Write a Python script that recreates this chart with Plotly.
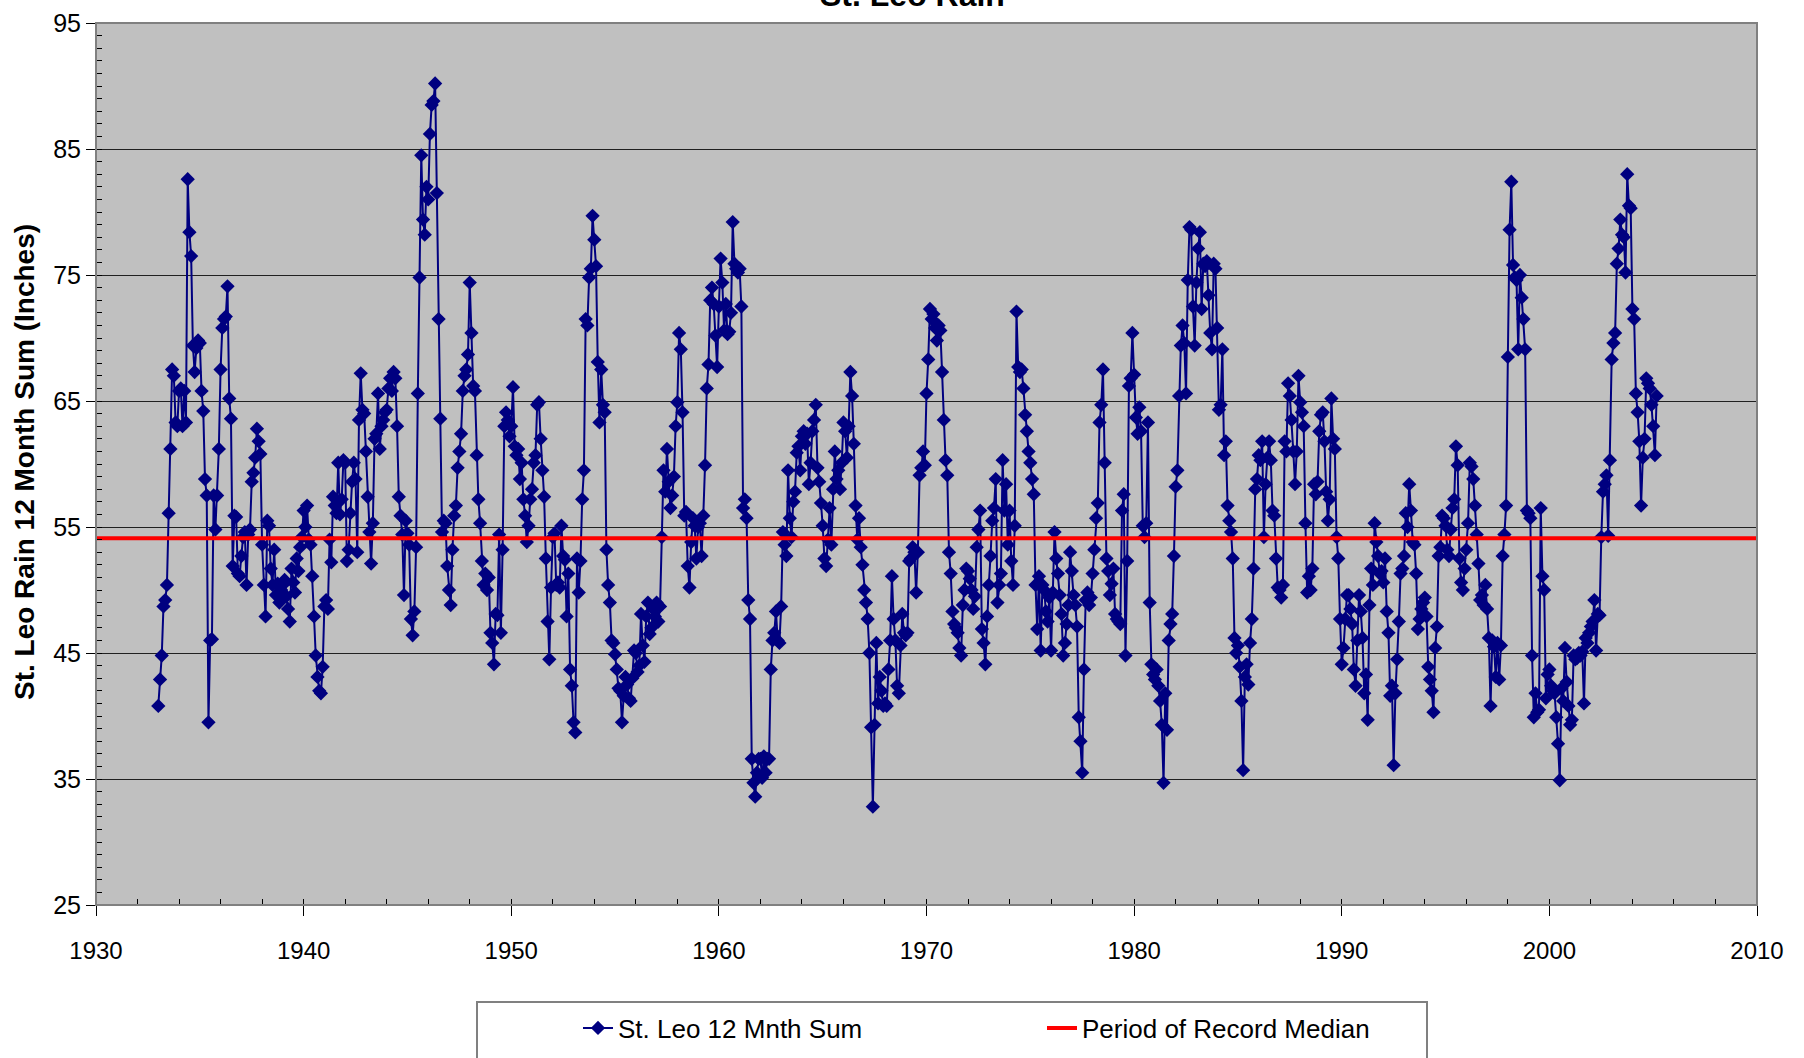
import plotly.graph_objects as go

# Monthly 12-month running rainfall totals at St. Leo (inches), starting January 1933
START_YEAR = 1933

rain_1930s = [
    40.8, 42.9, 44.8, 48.7, 49.2, 50.4, 56.1, 61.2, 67.5, 67.0, 63.3, 63.0,  # 1933
    65.8, 66.0, 63.0, 65.8, 63.3, 82.6, 78.4, 76.5, 69.4, 67.3, 69.2, 69.8,  # 1934
    69.6, 65.8, 64.2, 58.8, 57.5, 39.5, 46.0, 46.1, 57.5, 54.8, 57.5, 61.2,  # 1935
    67.5, 70.8, 71.5, 71.7, 74.1, 65.2, 63.6, 51.9, 55.9, 55.8, 51.3, 51.1,  # 1936
    52.7, 54.2, 54.6, 50.4, 54.4, 54.8, 58.6, 59.3, 60.5, 62.8, 61.8, 60.8,  # 1937
    53.6, 50.4, 47.9, 55.5, 55.1, 51.7, 50.4, 53.2, 49.6, 50.5, 49.0, 50.0,  # 1938
    50.4, 50.8, 49.5, 48.5, 47.5, 51.7, 50.6, 49.8, 52.5, 51.5, 53.4, 54.2,  # 1939
]

rain_1940s = [
    56.3, 55.0, 56.7, 54.0, 53.6, 51.1, 47.9, 44.8, 43.1, 42.0, 41.8, 43.9,  # 1940
    48.7, 49.2, 48.5, 54.0, 52.2, 57.4, 56.7, 56.1, 60.1, 56.0, 57.2, 60.3,  # 1941
    60.1, 52.3, 53.2, 56.1, 58.6, 60.1, 58.8, 53.0, 63.5, 67.2, 64.3, 64.0,  # 1942
    61.0, 57.4, 54.6, 52.1, 55.3, 62.0, 62.4, 65.6, 61.2, 63.0, 63.5, 64.1,  # 1943
    64.3, 66.0, 66.8, 65.8, 67.3, 66.8, 63.0, 57.4, 55.9, 54.4, 49.6, 55.5,  # 1944
    54.5, 53.6, 47.7, 46.4, 48.3, 53.4, 65.6, 74.8, 84.5, 79.4, 78.2, 82.0,  # 1945
    81.0, 86.2, 88.5, 88.8, 90.2, 81.5, 71.5, 63.6, 54.6, 55.5, 55.3, 51.9,  # 1946
    50.0, 48.8, 53.2, 55.9, 56.7, 59.7, 61.0, 62.4, 65.8, 67.0, 67.5, 68.7,  # 1947
    74.4, 70.4, 66.2, 65.8, 60.7, 57.2, 55.3, 52.3, 50.4, 51.3, 50.0, 51.0,  # 1948
    46.6, 45.8, 44.1, 48.1, 48.0, 54.4, 46.6, 53.2, 63.0, 64.1, 63.5, 62.2,  # 1949
]

rain_1950s = [
    63.0, 66.1, 61.4, 60.7, 61.2, 58.8, 60.1, 57.2, 55.9, 53.8, 55.1, 57.2,  # 1950
    58.0, 60.1, 60.7, 64.7, 64.9, 62.0, 59.5, 57.4, 52.5, 47.5, 44.5, 50.2,  # 1951
    54.2, 54.5, 50.4, 50.6, 50.2, 55.1, 52.7, 52.4, 47.9, 51.3, 43.7, 42.4,  # 1952
    39.5, 38.7, 52.5, 49.8, 52.3, 57.2, 59.5, 71.5, 71.0, 74.8, 75.5, 79.7,  # 1953
    77.8, 75.7, 68.1, 63.3, 67.5, 64.7, 64.1, 53.2, 50.4, 49.0, 46.0, 45.8,  # 1954
    44.9, 43.7, 42.2, 42.0, 39.5, 41.6, 43.1, 42.5, 41.4, 41.2, 43.0, 45.2,  # 1955
    45.0, 43.5, 44.0, 48.1, 45.6, 44.3, 47.9, 49.0, 46.5, 47.0, 48.5, 47.9,  # 1956
    49.0, 47.5, 48.7, 54.2, 59.5, 57.8, 61.2, 58.6, 56.5, 57.5, 59.0, 63.0,  # 1957
    64.9, 70.4, 69.1, 64.1, 55.9, 56.2, 51.9, 50.2, 53.8, 55.7, 55.1, 52.5,  # 1958
    55.0, 55.3, 52.7, 55.9, 59.9, 66.0, 67.9, 73.0, 74.0, 72.7, 70.2, 67.7,  # 1959
]

rain_1960s = [
    72.5, 76.3, 74.4, 70.6, 72.7, 70.3, 70.5, 72.0, 79.2, 75.9, 75.5, 75.2,  # 1960
    75.5, 72.5, 56.5, 57.2, 55.7, 49.2, 47.7, 36.6, 34.7, 33.6, 35.5, 36.6,  # 1961
    36.6, 35.1, 36.8, 35.5, 36.6, 36.6, 43.7, 46.0, 46.6, 48.3, 46.0, 45.8,  # 1962
    48.7, 54.6, 53.6, 52.7, 59.5, 55.7, 54.2, 57.0, 57.8, 60.9, 61.4, 59.5,  # 1963
    62.2, 62.6, 61.6, 62.4, 58.4, 60.1, 62.6, 63.5, 64.7, 59.7, 58.6, 56.9,  # 1964
    55.1, 52.5, 51.9, 54.0, 56.5, 53.6, 58.0, 61.0, 58.8, 59.5, 58.0, 60.1,  # 1965
    63.3, 62.6, 60.5, 63.0, 67.3, 65.4, 61.6, 56.7, 54.0, 55.7, 53.4, 52.0,  # 1966
    50.0, 49.0, 47.7, 45.0, 39.1, 32.8, 39.3, 45.8, 41.0, 43.1, 42.0, 40.8,  # 1967
    41.0, 40.8, 43.7, 46.0, 51.1, 47.7, 46.0, 42.4, 41.8, 45.6, 48.1, 46.6,  # 1968
    46.4, 46.6, 52.3, 52.5, 53.4, 53.0, 49.8, 53.0, 59.1, 59.7, 61.0, 59.9,  # 1969
]

rain_1970s = [
    65.6, 68.3, 72.3, 71.5, 71.9, 70.8, 69.8, 71.0, 70.6, 67.3, 63.5, 60.3,  # 1970
    59.1, 53.0, 51.3, 48.3, 47.3, 47.0, 46.6, 45.4, 44.8, 48.8, 50.0, 51.7,  # 1971
    51.5, 50.9, 50.0, 48.5, 49.5, 53.4, 54.8, 56.3, 46.9, 45.8, 44.1, 47.9,  # 1972
    50.4, 52.7, 55.5, 56.5, 58.8, 49.0, 50.4, 51.3, 60.3, 56.3, 58.4, 53.6,  # 1973
    56.3, 52.3, 50.4, 55.1, 72.1, 67.7, 67.3, 67.5, 66.0, 63.9, 62.6, 61.0,  # 1974
    60.1, 58.8, 57.6, 50.4, 46.9, 51.1, 45.2, 50.4, 50.0, 48.3, 47.5, 49.4,  # 1975
    45.2, 49.8, 54.6, 52.5, 51.3, 49.6, 48.1, 44.8, 45.8, 47.3, 48.8, 53.0,  # 1976
    51.5, 49.6, 48.8, 47.1, 39.9, 38.0, 35.5, 43.7, 49.2, 49.8, 48.8, 49.4,  # 1977
    51.3, 53.2, 55.7, 56.9, 63.3, 64.7, 67.5, 60.1, 52.5, 51.5, 49.6, 50.5,  # 1978
    51.7, 48.1, 47.7, 47.5, 47.3, 56.3, 57.6, 44.8, 52.3, 66.2, 66.8, 70.4,  # 1979
]

rain_1980s = [
    67.1, 63.7, 62.4, 64.5, 62.6, 55.1, 54.2, 55.3, 63.3, 49.0, 44.1, 43.3,  # 1980
    42.9, 43.7, 42.4, 41.2, 39.3, 34.7, 41.8, 38.9, 46.0, 47.3, 48.1, 52.7,  # 1981
    58.2, 59.5, 65.4, 69.4, 71.0, 69.6, 65.6, 74.6, 78.8, 78.6, 72.5, 69.4,  # 1982
    74.4, 77.1, 78.4, 72.3, 75.9, 75.7, 76.1, 73.4, 70.4, 69.1, 75.9, 75.5,  # 1983
    70.8, 64.3, 64.7, 69.1, 60.7, 61.8, 56.7, 55.5, 54.6, 52.5, 46.2, 45.0,  # 1984
    45.6, 43.9, 41.2, 35.7, 43.1, 44.1, 42.5, 45.8, 47.7, 51.7, 58.0, 58.8,  # 1985
    60.7, 60.3, 61.8, 54.2, 58.4, 60.5, 61.8, 60.3, 56.3, 55.9, 52.5, 50.2,  # 1986
    50.0, 49.4, 50.4, 61.8, 61.0, 66.4, 65.4, 63.5, 61.0, 58.4, 61.0, 67.0,  # 1987
    64.9, 64.1, 63.0, 55.3, 49.8, 51.1, 50.0, 51.7, 58.4, 57.6, 58.6, 62.6,  # 1988
    63.9, 64.1, 61.8, 57.8, 55.5, 57.2, 65.2, 62.0, 61.2, 54.2, 52.5, 47.7,  # 1989
]

rain_1990s = [
    44.1, 45.4, 47.7, 49.6, 49.6, 48.5, 47.3, 43.7, 42.4, 46.0, 49.6, 48.3,  # 1990
    46.2, 41.8, 43.3, 39.7, 48.8, 51.7, 50.4, 55.3, 53.8, 52.7, 51.3, 51.5,  # 1991
    50.6, 52.5, 48.3, 46.6, 41.6, 42.4, 36.1, 41.8, 44.5, 47.5, 51.3, 51.7,  # 1992
    52.7, 56.1, 55.0, 58.4, 56.3, 53.8, 53.6, 51.3, 46.9, 47.7, 48.5, 49.0,  # 1993
    49.4, 47.9, 43.9, 42.9, 42.0, 40.3, 45.4, 47.1, 52.7, 53.4, 55.9, 55.7,  # 1994
    55.1, 53.2, 52.7, 54.8, 56.5, 57.2, 61.4, 59.9, 52.5, 50.6, 50.0, 51.7,  # 1995
    53.2, 55.3, 60.1, 59.8, 58.8, 56.7, 54.4, 52.1, 49.2, 49.6, 48.8, 50.4,  # 1996
    48.5, 46.2, 40.8, 46.0, 45.5, 43.1, 45.8, 42.9, 45.6, 52.7, 54.4, 56.7,  # 1997
    68.5, 78.6, 82.4, 75.8, 74.8, 74.6, 69.1, 75.0, 73.2, 71.5, 69.1, 56.3,  # 1998
    56.1, 55.7, 44.8, 39.9, 41.8, 40.3, 40.5, 56.5, 51.1, 50.0, 41.4, 43.3,  # 1999
]

rain_2000s = [
    43.7, 42.4, 42.0, 41.8, 39.9, 37.8, 34.9, 42.2, 41.2, 45.4, 42.7, 40.8,  # 2000
    39.3, 39.7, 44.8, 44.5, 44.6, 45.0, 44.8, 45.1, 41.0, 46.2, 45.8, 46.6,  # 2001
    47.1, 47.5, 49.2, 45.2, 48.1, 48.0, 54.2, 57.8, 58.4, 59.1, 54.3, 60.3,  # 2002
    68.3, 69.6, 70.4, 75.9, 77.1, 79.4, 78.2, 78.0, 75.2, 83.0, 80.5, 80.3,  # 2003
    72.3, 71.5, 65.6, 64.1, 61.8, 56.7, 60.5, 62.0, 66.8, 66.4, 66.0, 64.7,  # 2004
    63.0, 60.7, 65.4,                                                        # 2005
]

median_years = [1930, 2010]
median_rain = 54.1

x_ticks = [1930, 1940, 1950, 1960, 1970, 1980, 1990, 2000, 2010]
y_ticks = [25, 35, 45, 55, 65, 75, 85, 95]

rain = rain_1930s + rain_1940s + rain_1950s + rain_1960s + rain_1970s + rain_1980s + rain_1990s + rain_2000s
months = [START_YEAR + i / 12 for i in range(len(rain))]

W, H = 1804, 1058
ML, MR, MT, MB = 96, 47, 23, 153
PW, PH = W - ML - MR, H - MT - MB


def px_x(p):
    return (p - ML) / PW


def px_y(p):
    return (H - MB - p) / PH


TICK_FONT = "Liberation Sans Narrow, Arial Narrow, Liberation Sans, Arial, sans-serif"
BOLD_FONT = "Liberation Sans, Arial, sans-serif"

fig = go.Figure()

fig.add_trace(go.Scatter(
    x=months, y=rain, mode="lines+markers", name="St. Leo 12 Mnth Sum",
    line=dict(color="#000080", width=2),
    marker=dict(symbol="diamond", size=11, color="#000080"),
))

fig.add_trace(go.Scatter(
    x=median_years, y=[median_rain, median_rain], mode="lines",
    name="Period of Record Median",
    line=dict(color="#FF0000", width=4),
))

fig.update_layout(
    width=W, height=H,
    margin=dict(l=ML, r=MR, t=MT, b=MB, autoexpand=False),
    paper_bgcolor="white",
    plot_bgcolor="#C0C0C0",
    showlegend=True,
    legend=dict(
        orientation="h", x=px_x(578), xanchor="left", y=px_y(1028), yanchor="middle",
        font=dict(family=TICK_FONT, size=26, color="black"),
        bgcolor="rgba(0,0,0,0)", borderwidth=0,
        entrywidth=419, entrywidthmode="pixels",
    ),
    xaxis=dict(
        range=[1930, 2010], tickvals=x_ticks, ticktext=[str(v) for v in x_ticks],
        showgrid=False, zeroline=False,
        ticks="outside", ticklen=10, tickwidth=1, tickcolor="black",
        ticklabelstandoff=14,
        showline=True, linecolor="black", linewidth=1,
        minor=dict(dtick=2, tick0=1930, ticks="inside", ticklen=6, tickcolor="black", showgrid=False),
        tickfont=dict(family=TICK_FONT, size=24, color="black"),
        automargin=False,
    ),
    yaxis=dict(
        range=[25, 95], tickvals=y_ticks, ticktext=[str(v) for v in y_ticks],
        showgrid=True, gridcolor="#202020", gridwidth=1, zeroline=False,
        ticks="outside", ticklen=9, tickwidth=1, tickcolor="black",
        showline=True, linecolor="black", linewidth=1,
        minor=dict(dtick=1, tick0=25, ticks="inside", ticklen=6, tickcolor="black", showgrid=False),
        tickfont=dict(family=TICK_FONT, size=25, color="black"),
        automargin=False,
    ),
    shapes=[
        # plot frame
        dict(type="rect", xref="paper", yref="paper", x0=0, x1=1, y0=0, y1=1,
             line=dict(color="#808080", width=2), layer="above"),
        # legend frame
        dict(type="rect", xref="paper", yref="paper",
             x0=px_x(477), x1=px_x(1427), y0=px_y(1002), y1=px_y(1075),
             line=dict(color="#808080", width=2), fillcolor="white", layer="below"),
    ],
    annotations=[
        dict(text="St. Leo Rain", xref="paper", yref="paper", x=px_x(912), y=1,
             xanchor="center", yanchor="bottom", yshift=8, showarrow=False,
             font=dict(family=BOLD_FONT, size=32, color="black", weight="bold")),
        dict(text="St. Leo Rain 12 Month Sum (Inches)", xref="paper", yref="paper",
             x=px_x(25), y=px_y(462), xanchor="center", yanchor="middle",
             textangle=-90, showarrow=False,
             font=dict(family=TICK_FONT, size=28, color="black", weight="bold")),
    ],
)

fig.write_html("out.html")
